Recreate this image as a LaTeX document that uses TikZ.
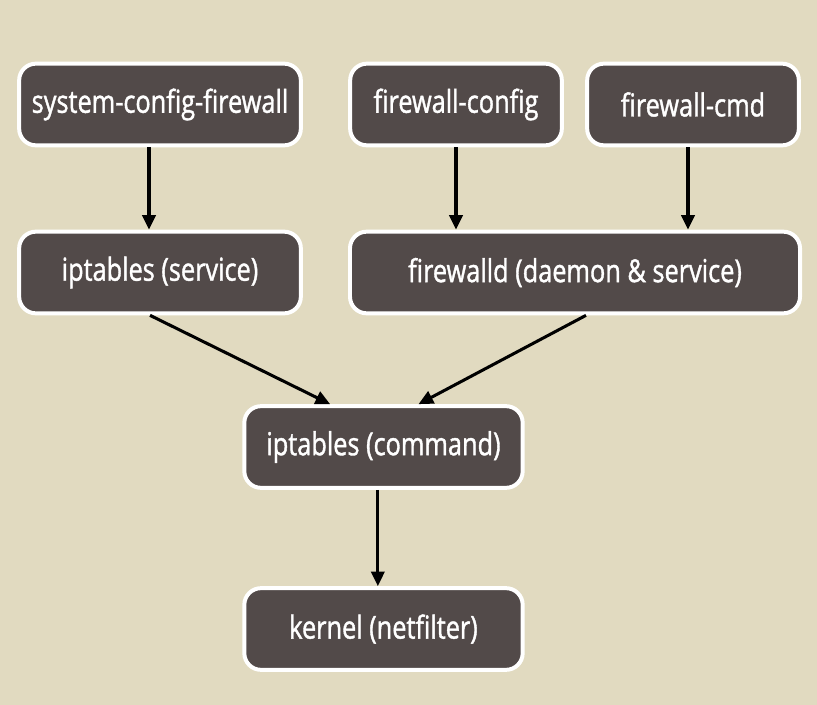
\documentclass[tikz,border=0pt]{standalone}
\usepackage{fontspec}
\setmainfont{Open Sans}[FakeStretch=0.8, FakeBold=1.2]
\usepackage{tikz}
\usetikzlibrary{arrows.meta}
\usetikzlibrary{calc}
\definecolor{bgbeige}{HTML}{E1DAC0}
\definecolor{boxgrey}{HTML}{524A49}

\begin{document}
\begin{tikzpicture}[x={(0.03cm,0)},y={(0,-0.03cm)},
    box/.style={draw=white, line width=3.4pt, fill=boxgrey, rounded corners=0.5cm,
      text=white, font=\fontsize{27}{31}\selectfont, inner sep=0pt,
      minimum height=2.45cm},
    wide/.style={box, minimum width=8.45cm},
    mid/.style={box, minimum width=8.35cm},
    small/.style={box, minimum width=6.35cm},
    flow/.style={-{Triangle[length=0.44cm,width=0.4cm]}, line width=2.6pt, black}]
        \fill [bgbeige] (0,0) rectangle (817,705);

        \node [wide](scf) at (160,104.5){system-config-firewall};
        \node [small](fwc) at (456,104.5){firewall-config};
        \node [small](fwcmd) at (693,104.5){firewall-cmd};
        \node [wide](ipts) at (160,272.5){iptables (service)};
        \node [box, minimum width=13.5cm](fwd) at (575,272.5){firewalld (daemon \& service)};
        \node [mid](iptc) at (383.5,447){iptables (command)};
        \node [mid](kern) at (383.5,629){kernel (netfilter)};

        \draw [flow] ([xshift=-0.33cm]scf.south) -- ([xshift=-0.33cm]ipts.north);
        \draw [flow] (fwc.south) -- (fwc.south |- fwd.north);
        \draw [flow] ([xshift=-0.15cm]fwcmd.south) -- ([xshift=-0.15cm]fwcmd.south |- fwd.north);
        \draw [flow] ([xshift=-0.3cm]ipts.south) -- ([xshift=-1.6cm]iptc.north);
        \draw [flow] ([xshift=0.33cm]fwd.south) -- ([xshift=1.05cm]iptc.north);
        \draw [flow] ([xshift=-0.17cm]iptc.south) -- ([xshift=-0.17cm]kern.north);
      \end{tikzpicture}
\end{document}
